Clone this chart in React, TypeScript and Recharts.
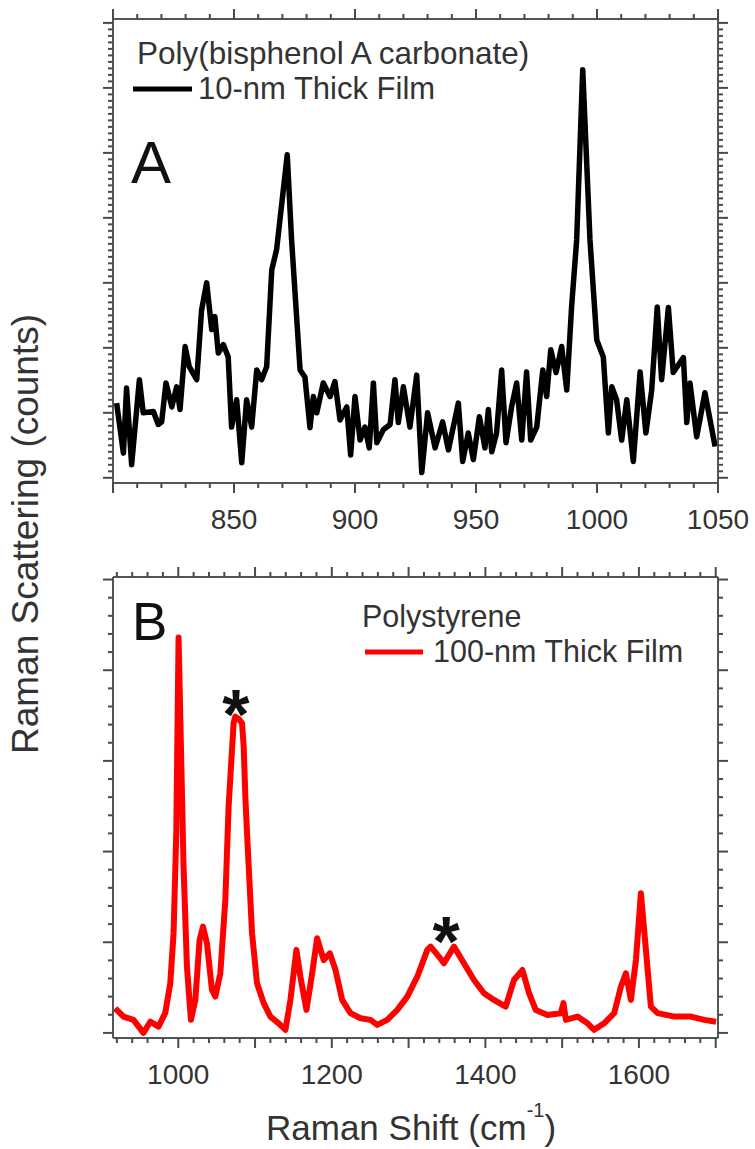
import { LineChart, Line, XAxis, YAxis, ReferenceDot } from 'recharts';

const FONT = '"Liberation Sans", Arial, Helvetica, sans-serif';
const AXIS_COLOR = '#555';
const TEXT_COLOR = '#333';

// Panel A: poly(bisphenol A carbonate), 10-nm film
const shiftA = [
  801.5, 804.3, 805.6, 807.7, 810.9, 812.5, 816.7, 818.7, 820.1, 821.9, 824.3, 826.3, 827.7, 829.8,
  831.5, 834.6, 836.6, 838.7, 840.8, 842.1, 843.5, 845.6, 847.6, 849.0, 851.1, 853.2, 855.2, 857.3,
  859.4, 861.4, 863.5, 865.6, 867.6, 872.0, 873.8, 877.3, 879.3, 881.4, 882.8, 884.2, 886.9, 889.7,
  891.7, 893.8, 896.6, 898.2, 900.0, 902.1, 904.1, 905.9, 907.6, 909.0, 911.7, 914.5, 916.5, 917.9,
  920.0, 922.7, 925.5, 927.6, 930.0, 933.1, 936.2, 938.6, 942.7, 944.5, 946.8, 948.9, 951.4, 953.7,
  955.1, 956.5, 958.5, 960.6, 962.4, 964.7, 966.8, 968.9, 970.9, 972.6, 975.1, 977.6, 979.2, 980.9,
  983.1, 985.4, 987.5, 989.5, 991.6, 994.1, 997.1, 999.9, 1002.6, 1004.7, 1006.1, 1008.1, 1010.2,
  1012.3, 1015.0, 1017.8, 1020.2, 1022.6, 1024.9, 1026.7, 1029.5, 1031.5, 1035.7, 1037.1, 1038.4,
  1041.2, 1044.6, 1048.8,
];
const countsA = [
  11.5, 3.8, 13.8, 2.0, 15.1, 10.0, 10.2, 8.2, 8.6, 14.6, 10.9, 14.0, 10.5, 20.2,
  17.1, 15.1, 25.8, 30.0, 22.8, 24.8, 19.2, 20.5, 18.6, 7.8, 12.0, 2.3, 12.0, 7.8,
  16.6, 15.1, 17.1, 32.0, 35.1, 49.7, 36.6, 16.6, 15.5, 7.7, 12.5, 10.0, 14.6, 12.5,
  14.8, 8.9, 10.9, 3.5, 12.5, 5.8, 7.8, 4.6, 14.6, 5.4, 7.4, 8.2, 15.1, 8.5,
  14.0, 7.8, 15.8, 0.8, 10.0, 4.6, 8.6, 4.3, 11.5, 2.5, 6.9, 2.8, 9.4, 4.6,
  10.5, 4.0, 6.9, 16.6, 5.4, 10.9, 14.6, 5.8, 16.3, 5.8, 7.8, 16.6, 12.5, 19.7,
  16.2, 20.2, 13.5, 26.3, 36.6, 62.8, 36.6, 21.2, 18.6, 6.9, 14.0, 12.0, 5.8,
  12.0, 2.5, 16.3, 6.9, 13.5, 26.3, 15.1, 26.2, 16.2, 18.5, 8.5, 14.6,
  6.3, 13.1, 4.8,
];
const xMajorA = [800, 850, 900, 950, 1000, 1050];
const xLabelsA = [850, 900, 950, 1000, 1050];
const yMajorA = [0, 10, 20, 30, 40, 50, 60, 70];

// Panel B: polystyrene, 100-nm film
const shiftB = [
  917.8, 928.7, 941.7, 954.7, 963.5, 974.3, 983.0, 989.6, 993.9, 997.4, 1000.4, 1006.9, 1011.3,
  1016.5, 1022.2, 1027.8, 1032.2, 1037.4, 1043.9, 1048.3, 1054.8, 1061.3, 1065.6, 1072.1, 1074.3,
  1079.0, 1083.1, 1085.2, 1087.4, 1089.6, 1096.1, 1102.6, 1111.3, 1120.0, 1130.8, 1139.6, 1146.1,
  1153.9, 1159.1, 1167.0, 1174.4, 1180.9, 1189.5, 1197.4, 1204.8, 1213.5, 1224.3, 1237.4, 1250.4,
  1259.2, 1272.2, 1285.3, 1298.3, 1311.3, 1324.4, 1328.7, 1339.5, 1346.0, 1359.1, 1372.1, 1385.2,
  1398.2, 1411.2, 1426.5, 1437.3, 1448.3, 1456.9, 1465.6, 1480.9, 1498.2, 1501.7, 1504.8, 1520.0,
  1533.1, 1541.7, 1554.7, 1567.8, 1576.5, 1583.0, 1589.6, 1596.1, 1602.6, 1609.1, 1615.6, 1624.4,
  1646.1, 1667.8, 1685.1, 1700.4,
];
const countsB = [
  1.36, 0.9, 0.72, 0.0, 0.62, 0.35, 1.09, 2.74, 5.5, 11.0, 21.8, 9.17, 3.66,
  0.72, 1.82, 5.13, 5.86, 4.94, 2.37, 2.0, 3.29, 7.33, 12.5, 17.1, 17.44,
  17.3, 17.07, 15.8, 13.0, 11.0, 5.5, 2.74, 1.64, 0.9, 0.53, 0.17, 1.82,
  4.58, 3.1, 1.27, 3.29, 5.22, 4.02, 4.39, 3.47, 1.82, 1.09, 0.81, 0.72,
  0.44, 0.72, 1.27, 2.0, 3.1, 4.58, 4.76, 4.21, 3.84, 4.76, 3.84, 2.92,
  2.19, 1.82, 1.45, 2.92, 3.47, 2.19, 1.27, 0.99, 1.09, 1.64, 0.72, 0.9,
  0.53, 0.17, 0.53, 1.09, 2.55, 3.29, 1.82, 4.02, 7.7, 4.58, 1.45, 1.09,
  0.9, 0.9, 0.72, 0.62,
];
const xMajorB = [1000, 1100, 1200, 1300, 1400, 1500, 1600, 1700];
const xLabelsB = [1000, 1200, 1400, 1600];
const yMajorB = [0, 5, 10, 15, 20, 25];
// bands marked with an asterisk
const starShift = [1075, 1349];
const starCounts = [17.44, 4.5];

const steps = (from: number, to: number, step: number) => {
  const out: number[] = [];
  for (let v = from; v <= to + 1e-9; v += step) out.push(Math.round(v * 1000) / 1000);
  return out;
};

const dataA = shiftA.map((x, i) => ({ x, y: countsA[i] }));
const dataB = shiftB.map((x, i) => ({ x, y: countsB[i] }));

type Side = 'top' | 'bottom' | 'left' | 'right';

function makeTick(side: Side, majors: number[], labels: number[] = []) {
  return function Tick(props: any) {
    const { x, y, payload } = props;
    const v = Number(payload.value);
    const isMajor = majors.some((m) => Math.abs(m - v) < 1e-6);
    const len = isMajor ? 10 : 5;
    let x2 = x;
    let y2 = y;
    if (side === 'bottom') y2 = y + len;
    if (side === 'top') y2 = y - len;
    if (side === 'left') x2 = x - len;
    if (side === 'right') x2 = x + len;
    const showLabel = side === 'bottom' && labels.some((l) => Math.abs(l - v) < 1e-6);
    return (
      <g>
        <line x1={x} y1={y} x2={x2} y2={y2} stroke="#4a4a4a" strokeWidth={2} />
        {showLabel && (
          <text x={x} y={y + 46} textAnchor="middle" fontSize={28} fill={TEXT_COLOR} fontFamily={FONT}>
            {v}
          </text>
        )}
      </g>
    );
  };
}

interface PanelProps {
  data: { x: number; y: number }[];
  color: string;
  lineWidth: number;
  height: number;
  topH: number;
  bottomH: number;
  xDomain: [number, number];
  yDomain: [number, number];
  xTicks: number[];
  xMajor: number[];
  xLabels: number[];
  yTicks: number[];
  yMajor: number[];
  children?: any;
}

function Panel(p: PanelProps) {
  const axisLine = { stroke: AXIS_COLOR, strokeWidth: 2 };
  return (
    <LineChart width={755} height={p.height} data={p.data} margin={{ top: 0, right: 0, bottom: 0, left: 0 }}>
      <XAxis
        dataKey="x"
        type="number"
        domain={p.xDomain}
        allowDataOverflow
        ticks={p.xTicks}
        interval={0}
        height={p.bottomH}
        axisLine={axisLine}
        tickLine={false}
        tickSize={0}
        tickMargin={0}
        tick={makeTick('bottom', p.xMajor, p.xLabels)}
      />
      <XAxis
        xAxisId="top"
        orientation="top"
        dataKey="x"
        type="number"
        domain={p.xDomain}
        allowDataOverflow
        ticks={p.xTicks}
        interval={0}
        height={p.topH}
        axisLine={axisLine}
        tickLine={false}
        tickSize={0}
        tickMargin={0}
        tick={makeTick('top', p.xMajor)}
      />
      <YAxis
        type="number"
        domain={p.yDomain}
        allowDataOverflow
        ticks={p.yTicks}
        interval={0}
        width={113}
        axisLine={axisLine}
        tickLine={false}
        tickSize={0}
        tickMargin={0}
        tick={makeTick('left', p.yMajor)}
      />
      <YAxis
        yAxisId="right"
        orientation="right"
        type="number"
        domain={p.yDomain}
        allowDataOverflow
        ticks={p.yTicks}
        interval={0}
        width={37}
        axisLine={axisLine}
        tickLine={false}
        tickSize={0}
        tickMargin={0}
        tick={makeTick('right', p.yMajor)}
      />
      <Line
        type="linear"
        dataKey="y"
        stroke={p.color}
        strokeWidth={p.lineWidth}
        strokeLinejoin="round"
        dot={false}
        isAnimationActive={false}
      />
      {p.children}
    </LineChart>
  );
}

export default function App() {
  return (
    <div
      style={{
        position: 'absolute',
        left: 0,
        top: 0,
        width: 755,
        height: 1149,
        background: '#fff',
        fontFamily: FONT,
        overflow: 'hidden',
      }}
    >
      <div style={{ position: 'absolute', left: 0, top: 0 }}>
        <Panel
          data={dataA}
          color="#000"
          lineWidth={5.5}
          height={545}
          topH={19}
          bottomH={62}
          xDomain={[800, 1050]}
          yDomain={[-0.8, 70.6]}
          xTicks={steps(800, 1050, 10)}
          xMajor={xMajorA}
          xLabels={xLabelsA}
          yTicks={steps(0, 70, 1)}
          yMajor={yMajorA}
        />
      </div>
      <div style={{ position: 'absolute', left: 0, top: 545 }}>
        <Panel
          data={dataB}
          color="#ff0000"
          lineWidth={6}
          height={604}
          topH={32}
          bottomH={111}
          xDomain={[915, 1703]}
          yDomain={[-0.28, 25.14]}
          xTicks={steps(920, 1700, 20)}
          xMajor={xMajorB}
          xLabels={xLabelsB}
          yTicks={steps(0, 25, 1)}
          yMajor={yMajorB}
        >
          {starShift.map((sx, i) => (
            <ReferenceDot
              key={i}
              x={sx}
              y={starCounts[i]}
              r={1}
              fill="none"
              stroke="none"
              label={{
                value: '*',
                position: 'center',
                dy: i === 0 ? -2 : -10,
                fontSize: 70,
                fontWeight: 'bold',
                fill: '#111',
                fontFamily: FONT,
              }}
            />
          ))}
        </Panel>
      </div>
      <svg
        width={755}
        height={1149}
        style={{ position: 'absolute', left: 0, top: 0, pointerEvents: 'none' }}
        fontFamily={FONT}
      >
        {/* panel A legend */}
        <text x={137} y={64} fontSize={31.5} fill={TEXT_COLOR}>
          Poly(bisphenol A carbonate)
        </text>
        <line x1={133} y1={89} x2={192} y2={89} stroke="#000" strokeWidth={5} />
        <text x={198} y={99} fontSize={31} fill={TEXT_COLOR}>
          10-nm Thick Film
        </text>
        <text x={131} y={183} fontSize={60} fill="#111">
          A
        </text>

        {/* panel B legend */}
        <text x={362} y={627} fontSize={30.5} fill={TEXT_COLOR}>
          Polystyrene
        </text>
        <line x1={365} y1={652} x2={423} y2={652} stroke="#ff0000" strokeWidth={5} />
        <text x={433} y={662} fontSize={30.5} fill={TEXT_COLOR}>
          100-nm Thick Film
        </text>
        <text x={132} y={640} fontSize={53} fill="#111">
          B
        </text>

        {/* axis titles */}
        <text transform="translate(38,534) rotate(-90)" textAnchor="middle" fontSize={37} fill={TEXT_COLOR}>
          Raman Scattering (counts)
        </text>
        <text x={266} y={1140} fontSize={35} fill={TEXT_COLOR}>
          Raman Shift (cm
          <tspan fontSize={20} dy={-23}>
            -1
          </tspan>
          <tspan dy={23}>)</tspan>
        </text>
      </svg>
    </div>
  );
}
